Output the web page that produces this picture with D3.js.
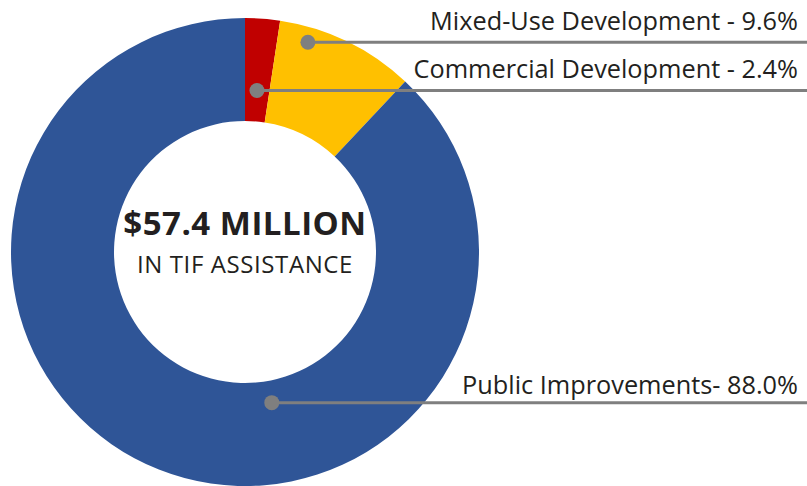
<!DOCTYPE html>
<html>
<head>
<meta charset="utf-8">
<script src="https://cdn.jsdelivr.net/npm/d3@7"></script>
<style>
  body { margin: 0; background: #fff; }
  text { font-family: "Open Sans", sans-serif; fill: #231f20; }
</style>
</head>
<body>
<div id="chart"></div>
<script>
// data
var categories = ["Commercial Development", "Mixed-Use Development", "Public Improvements"];
var shares = [2.4, 9.6, 88.0];
var labels = ["Commercial Development - 2.4%", "Mixed-Use Development - 9.6%", "Public Improvements- 88.0%"];
var totalLabel = "$57.4 MILLION";
var subLabel = "IN TIF ASSISTANCE";

var svgWidth = 807;
var svgHeight = 486;
var cx = 245, cy = 252;
var outerR = 234, innerR = 131;

var colors = ["#c00000", "#ffc000", "#2f5597"];
// where the grey leader dot sits inside each slice (fraction of the slice angle, radius)
var dotT = [0.49, 0.233, 0.4];
var dotR = [162, 219, 153];
var textDy = [-12, -12, -9];

var svg = d3.select("#chart")
  .append("svg")
  .attr("width", svgWidth)
  .attr("height", svgHeight);

var g = svg.append("g")
  .attr("transform", `translate(${cx}, ${cy})`);

var pie = d3.pie().sort(null).value(d => d);
var arcs = pie(shares);

var arc = d3.arc().innerRadius(innerR).outerRadius(outerR);

g.selectAll(".slice")
  .data(arcs)
  .enter()
  .append("path")
  .attr("class", "slice")
  .attr("d", arc)
  .attr("fill", (d, i) => colors[i]);

// leaders
var leaders = arcs.map(function(d, i) {
  var a = d.startAngle + dotT[i] * (d.endAngle - d.startAngle);
  return { x: cx + dotR[i] * Math.sin(a), y: cy - dotR[i] * Math.cos(a), i: i };
});

svg.selectAll(".leader")
  .data(leaders)
  .enter()
  .append("line")
  .attr("x1", d => d.x)
  .attr("y1", d => d.y)
  .attr("x2", svgWidth)
  .attr("y2", d => d.y)
  .attr("stroke", "#7f7f7f")
  .attr("stroke-width", 3);

svg.selectAll(".dot")
  .data(leaders)
  .enter()
  .append("circle")
  .attr("cx", d => d.x)
  .attr("cy", d => d.y)
  .attr("r", 7.5)
  .attr("fill", "#7f7f7f");

svg.selectAll(".lbl")
  .data(leaders)
  .enter()
  .append("text")
  .attr("x", 798)
  .attr("y", d => d.y + textDy[d.i])
  .attr("text-anchor", "end")
  .style("font-size", "25.3px")
  .text(d => labels[d.i]);

// centre text
g.append("text")
  .attr("y", -17)
  .attr("text-anchor", "middle")
  .style("font-size", "33px")
  .style("font-weight", "bold")
  .style("letter-spacing", "0.5px")
  .text(totalLabel);

g.append("text")
  .attr("y", 21)
  .attr("text-anchor", "middle")
  .style("font-size", "24px")
  .style("letter-spacing", "0.6px")
  .text(subLabel);
</script>
</body>
</html>
